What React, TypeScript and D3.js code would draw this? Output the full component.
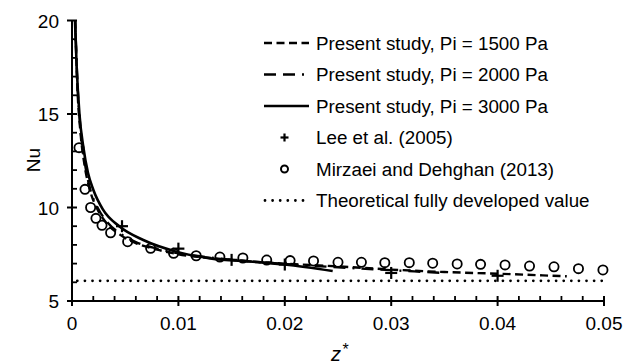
import React from "react";
import * as d3 from "d3";

// ---- data ----
const z1500 = [0.0003, 0.0005, 0.0008, 0.0012, 0.0017, 0.0024, 0.0032, 0.0045, 0.006, 0.008, 0.01, 0.013, 0.016, 0.02, 0.025, 0.03, 0.035, 0.04, 0.0465];
const nu1500 = [20, 16.5, 14.0, 12.2, 10.9, 9.9, 9.2, 8.55, 8.1, 7.75, 7.5, 7.3, 7.15, 7.0, 6.85, 6.68, 6.55, 6.46, 6.32];

const z2000 = [0.0003, 0.0005, 0.0008, 0.0012, 0.0017, 0.0024, 0.0032, 0.0045, 0.006, 0.008, 0.01, 0.013, 0.016, 0.02, 0.025, 0.03, 0.035];
const nu2000 = [20, 16.8, 14.2, 12.4, 11.0, 10.0, 9.3, 8.62, 8.15, 7.8, 7.55, 7.32, 7.15, 6.98, 6.8, 6.65, 6.5];

const z3000 = [0.00028, 0.00044, 0.0007, 0.00106, 0.0015, 0.002, 0.0029, 0.0045, 0.0067, 0.0098, 0.013, 0.017, 0.02, 0.0245];
const nu3000 = [20, 17.5, 15.0, 13.25, 11.85, 10.95, 9.9, 8.97, 8.26, 7.64, 7.28, 7.1, 6.95, 6.6];

const zLee = [0.0047, 0.01, 0.015, 0.02, 0.03, 0.04];
const nuLee = [9.0, 7.8, 7.2, 6.95, 6.5, 6.35];

const zMir = [0.00066, 0.00122, 0.00175, 0.00225, 0.00282, 0.00363, 0.00523, 0.00739, 0.00955, 0.01167, 0.0139, 0.01606, 0.0183, 0.0205, 0.0227, 0.025, 0.0272, 0.0294, 0.0317, 0.0339, 0.0362, 0.0384, 0.0407, 0.043, 0.0453, 0.0476, 0.0499];
const nuMir = [13.2, 10.97, 10.0, 9.42, 9.05, 8.65, 8.17, 7.82, 7.55, 7.42, 7.35, 7.3, 7.19, 7.16, 7.14, 7.07, 7.07, 7.05, 7.05, 7.02, 6.98, 6.96, 6.93, 6.87, 6.83, 6.73, 6.66];

const nuTheory = 6.08;
const zTheory = [0.0005, 0.05];

const xTicks = [0, 0.01, 0.02, 0.03, 0.04, 0.05];
const xTickLabels = ["0", "0.01", "0.02", "0.03", "0.04", "0.05"];
const yTicks = [5, 10, 15, 20];
const yTickLabels = ["5", "10", "15", "20"];

const legendLabels = [
  "Present study, Pi = 1500 Pa",
  "Present study, Pi = 2000 Pa",
  "Present study, Pi = 3000 Pa",
  "Lee et al. (2005)",
  "Mirzaei and Dehghan (2013)",
  "Theoretical fully developed value",
];

const W = 627;
const H = 364;
const FONT = "'Liberation Sans', Arial, Helvetica, sans-serif";

export default function App() {
  const x = d3.scaleLinear().domain([0, 0.05]).range([72, 604]);
  const y = d3.scaleLinear().domain([5, 20]).range([301, 20.5]);

  const line = d3
    .line<[number, number]>()
    .x((d) => x(d[0]))
    .y((d) => y(d[1]))
    .curve(d3.curveMonotoneX);

  const pts = (zs: number[], ns: number[]) => zs.map((z, i) => [z, ns[i]] as [number, number]);

  const minorX = d3.range(0, 0.0501, 0.002).filter((v) => Math.abs(v / 0.01 - Math.round(v / 0.01)) > 1e-6);
  const minorY = d3.range(5, 20.01, 1).filter((v) => v % 5 !== 0);

  const dash1500 = "8,4.5";
  const dash2000 = "12,7,12,7,2,7";
  const dotted = "0,7.6";

  const lx0 = 264;
  const lx1 = 309;
  const ltx = 316;
  const ly0 = 43;
  const lstep = 31.5;

  const cross = (cx: number, cy: number, s: number, k: string) => (
    <g key={k} stroke="#000" strokeWidth={2.2}>
      <line x1={cx - s} x2={cx + s} y1={cy} y2={cy} />
      <line x1={cx} x2={cx} y1={cy - s} y2={cy + s} />
    </g>
  );

  return (
    <svg
      width={W}
      height={H}
      style={{ position: "absolute", left: 0, top: 0, background: "#fff" }}
      fontFamily={FONT}
    >
      <rect x={0} y={0} width={W} height={H} fill="#fff" />
      {/* theoretical dotted line */}
      <line
        x1={x(zTheory[0])}
        x2={x(zTheory[1])}
        y1={y(nuTheory)}
        y2={y(nuTheory)}
        stroke="#000"
        strokeWidth={2.8}
        strokeDasharray={dotted}
        strokeLinecap="round"
      />
      {/* curves */}
      <path d={line(pts(z1500, nu1500)) || ""} fill="none" stroke="#000" strokeWidth={2.4} strokeDasharray={dash1500} />
      <path d={line(pts(z2000, nu2000)) || ""} fill="none" stroke="#000" strokeWidth={2.4} strokeDasharray={dash2000} />
      <path d={line(pts(z3000, nu3000)) || ""} fill="none" stroke="#000" strokeWidth={2.6} />
      {/* Mirzaei circles */}
      {zMir.map((z, i) => (
        <circle key={"m" + i} cx={x(z)} cy={y(nuMir[i])} r={4.6} fill="none" stroke="#000" strokeWidth={1.8} />
      ))}
      {/* Lee crosses */}
      {zLee.map((z, i) => cross(x(z), y(nuLee[i]), 6, "l" + i))}

      {/* axes */}
      <line x1={72} x2={604} y1={301} y2={301} stroke="#000" strokeWidth={2} />
      <line x1={72} x2={72} y1={306} y2={20.5} stroke="#000" strokeWidth={2} />
      {xTicks.map((t, i) => (
        <g key={"xt" + i}>
          <line x1={x(t)} x2={x(t)} y1={296} y2={306} stroke="#000" strokeWidth={2} />
          <text x={x(t)} y={330} textAnchor="middle" fontSize={19}>
            {xTickLabels[i]}
          </text>
        </g>
      ))}
      {minorX.map((t, i) => (
        <line key={"xm" + i} x1={x(t)} x2={x(t)} y1={296} y2={301} stroke="#000" strokeWidth={1.8} />
      ))}
      {yTicks.map((t, i) => (
        <g key={"yt" + i}>
          <line x1={67} x2={77} y1={y(t)} y2={y(t)} stroke="#000" strokeWidth={2} />
          <text x={59} y={y(t) + 7} textAnchor="end" fontSize={19}>
            {yTickLabels[i]}
          </text>
        </g>
      ))}
      {minorY.map((t, i) => (
        <line key={"ym" + i} x1={72} x2={77} y1={y(t)} y2={y(t)} stroke="#000" strokeWidth={1.8} />
      ))}

      {/* axis titles */}
      <text transform="translate(40,160) rotate(-90)" textAnchor="middle" fontSize={19}>
        Nu
      </text>
      <text x={331} y={361} fontSize={20} fontStyle="italic">
        z
      </text>
      <text x={342.5} y={355} fontSize={16}>
        *
      </text>

      {/* legend */}
      {legendLabels.map((lab, i) => {
        const cy = ly0 + i * lstep;
        let sym: React.ReactNode = null;
        if (i === 0) sym = <line x1={lx0} x2={lx1} y1={cy} y2={cy} stroke="#000" strokeWidth={2.4} strokeDasharray={dash1500} />;
        if (i === 1) sym = <line x1={lx0} x2={lx1} y1={cy} y2={cy} stroke="#000" strokeWidth={2.4} strokeDasharray={dash2000} />;
        if (i === 2) sym = <line x1={lx0} x2={lx1} y1={cy} y2={cy} stroke="#000" strokeWidth={2.6} />;
        if (i === 3) sym = cross((lx0 + lx1) / 2 - 2, cy, 4, "lc");
        if (i === 4) sym = <circle cx={(lx0 + lx1) / 2 - 2} cy={cy} r={3.5} fill="none" stroke="#000" strokeWidth={2} />;
        if (i === 5)
          sym = (
            <line x1={lx0 + 1} x2={lx1} y1={cy} y2={cy} stroke="#000" strokeWidth={2.8} strokeDasharray={dotted} strokeLinecap="round" />
          );
        return (
          <g key={"lg" + i}>
            {sym}
            <text x={ltx} y={cy + 6.5} fontSize={18.8}>
              {lab}
            </text>
          </g>
        );
      })}
    </svg>
  );
}
